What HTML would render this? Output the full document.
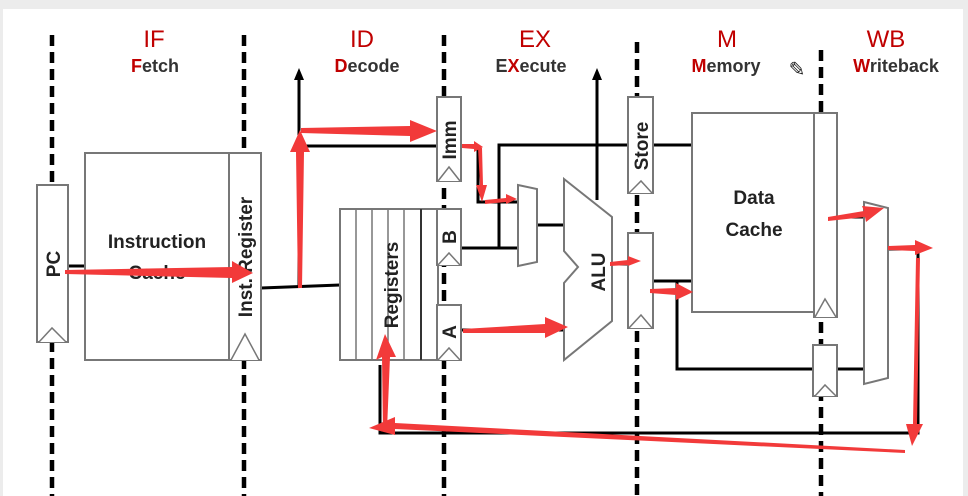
<!DOCTYPE html>
<html><head><meta charset="utf-8"><style>
html,body{margin:0;padding:0;background:#ececec;}
svg{display:block;}
text{font-family:"Liberation Sans",sans-serif;}
</style></head><body>
<svg width="968" height="496" viewBox="0 0 968 496" xmlns="http://www.w3.org/2000/svg">
<rect x="0" y="0" width="968" height="496" fill="#ececec"/>
<rect x="3" y="9" width="960" height="487" fill="#fff"/>
<g stroke="#000" stroke-width="4.5" stroke-dasharray="11,6">
<line x1="52" y1="35" x2="52" y2="496"/>
<line x1="244" y1="35" x2="244" y2="496"/>
<line x1="444" y1="35" x2="444" y2="496"/>
<line x1="637" y1="42" x2="637" y2="496"/>
<line x1="821" y1="50" x2="821" y2="496"/>
</g>
<g font-size="24" fill="#c00000" text-anchor="middle">
<text x="154" y="47">IF</text><text x="362" y="47">ID</text><text x="535" y="47">EX</text><text x="727" y="47">M</text><text x="886" y="47">WB</text>
</g>
<g font-size="18" font-weight="bold" fill="#333" text-anchor="middle">
<text x="155" y="72"><tspan fill="#c00000">F</tspan>etch</text>
<text x="367" y="72"><tspan fill="#c00000">D</tspan>ecode</text>
<text x="531" y="72">E<tspan fill="#c00000">X</tspan>ecute</text>
<text x="726" y="72"><tspan fill="#c00000">M</tspan>emory</text>
<text x="896" y="72"><tspan fill="#c00000">W</tspan>riteback</text>
</g>
<text x="797" y="76" font-size="20" fill="#222" text-anchor="middle">✎</text>
<g stroke="#000" stroke-width="3" fill="none">
<line x1="68" y1="266" x2="85" y2="266"/>
<polyline points="261,288 340,285"/>
<line x1="299" y1="288" x2="299" y2="78"/>
<line x1="299" y1="146" x2="437" y2="146"/>
<polyline points="461,146 478,146 478,202 518,202"/>
<polyline points="499,248 499,145 692,145"/>
<line x1="461" y1="248" x2="518" y2="248"/>
<line x1="537" y1="225" x2="564" y2="225"/>
<line x1="597" y1="200" x2="597" y2="78"/>
<line x1="461" y1="330" x2="564" y2="330"/>
<line x1="612" y1="264" x2="628" y2="264"/>
<line x1="653" y1="281" x2="692" y2="281"/>
<polyline points="677,281 677,369 813,369"/>
<line x1="837" y1="369" x2="864" y2="369"/>
<line x1="837" y1="217" x2="864" y2="217"/>
<polyline points="888,249 918,249 918,433 380,433 380,365"/>
</g>
<polygon points="299,68 294,80 304,80" fill="#000"/>
<polygon points="597,68 592,80 602,80" fill="#000"/>
<g stroke="#777" stroke-width="2" fill="#fff">
<rect x="37" y="185" width="31" height="157"/>
<rect x="85" y="153" width="144" height="207"/>
<rect x="229" y="153" width="32" height="207"/>
<rect x="340" y="209" width="98" height="151"/>
<rect x="437" y="97" width="24" height="84"/>
<rect x="437" y="209" width="24" height="56"/>
<rect x="437" y="305" width="24" height="55"/>
<rect x="628" y="97" width="25" height="96"/>
<rect x="628" y="233" width="25" height="95"/>
<rect x="692" y="113" width="122" height="199"/>
<rect x="814" y="113" width="23" height="204"/>
<rect x="813" y="345" width="24" height="51"/>
<polygon points="518,185 537,189 537,262 518,266"/>
<polygon points="864,202 888,208 888,378 864,384"/>
<polygon points="564,179 612,217 612,321 564,360 564,283 578,267 564,251"/>
</g>
<g stroke="#777" stroke-width="1.5">
<line x1="356" y1="209" x2="356" y2="360"/><line x1="372" y1="209" x2="372" y2="360"/>
<line x1="388" y1="209" x2="388" y2="360"/><line x1="404" y1="209" x2="404" y2="360"/>
<line x1="421" y1="209" x2="421" y2="360" stroke="#333" stroke-width="2"/>
</g>
<g stroke="#777" stroke-width="1.5" fill="#fff">
<polyline points="39,342 52,328 66,342"/>
<polyline points="231,360 245,334 259,360"/>
<polyline points="438,181 449,167 460,181"/>
<polyline points="438,265 449,253 460,265"/>
<polyline points="438,360 449,348 460,360"/>
<polyline points="629,193 641,181 652,193"/>
<polyline points="629,328 641,315 652,328"/>
<polyline points="815,317 825,299 836,317"/>
<polyline points="815,396 825,385 836,396"/>
</g>
<g font-size="19" font-weight="bold" fill="#222" text-anchor="middle">
<text x="157" y="248">Instruction</text>
<text x="157" y="279">Cache</text>
<text x="754" y="204">Data</text>
<text x="754" y="236">Cache</text>
<text transform="translate(60,264) rotate(-90)">PC</text>
<text transform="translate(252,257) rotate(-90)">Inst. Register</text>
<text transform="translate(398,285) rotate(-90)">Registers</text>
<text transform="translate(456,140) rotate(-90)">Imm</text>
<text transform="translate(456,237) rotate(-90)">B</text>
<text transform="translate(456,332) rotate(-90)">A</text>
<text transform="translate(648,146) rotate(-90)">Store</text>
<text transform="translate(605,272) rotate(-90)">ALU</text>
</g>
<g fill="#f23a3a">
<polygon points="65,270 232,267 232,261 253,273 232,283 232,278 65,274"/>
<polygon points="298,288 296,152 290,152 300,130 310,152 304,152 302,288"/>
<polygon points="301,128 410,126 410,120 437,131 410,142 410,136 301,133"/>
<polygon points="462,144 474,144 474,141 483,147 474,152 474,149 462,148"/>
<polygon points="478,148 480,185 476,185 482,202 487,185 483,185 482,148"/>
<polygon points="485,200 506,198 506,194 517,199 506,204 506,202 485,204"/>
<polygon points="463,329 545,324 545,317 568,327 545,338 545,333 463,333"/>
<polygon points="610,262 628,260 628,256 641,261 628,266 628,265 610,266"/>
<polygon points="650,289 676,288 676,283 693,292 676,300 676,295 650,293"/>
<polygon points="828,217 864,211 862,206 884,208 866,222 865,217 828,221"/>
<polygon points="888,246 915,245 915,240 933,248 915,255 915,251 888,250"/>
<polygon points="916,258 913,424 906,424 912,446 923,424 917,424 920,258"/>
<polygon points="905,453 395,429 395,435 369,428 395,417 395,423 905,450"/>
<polygon points="383,430 382,357 376,360 385,334 396,357 390,357 387,430"/>
</g>
</svg>
</body></html>
